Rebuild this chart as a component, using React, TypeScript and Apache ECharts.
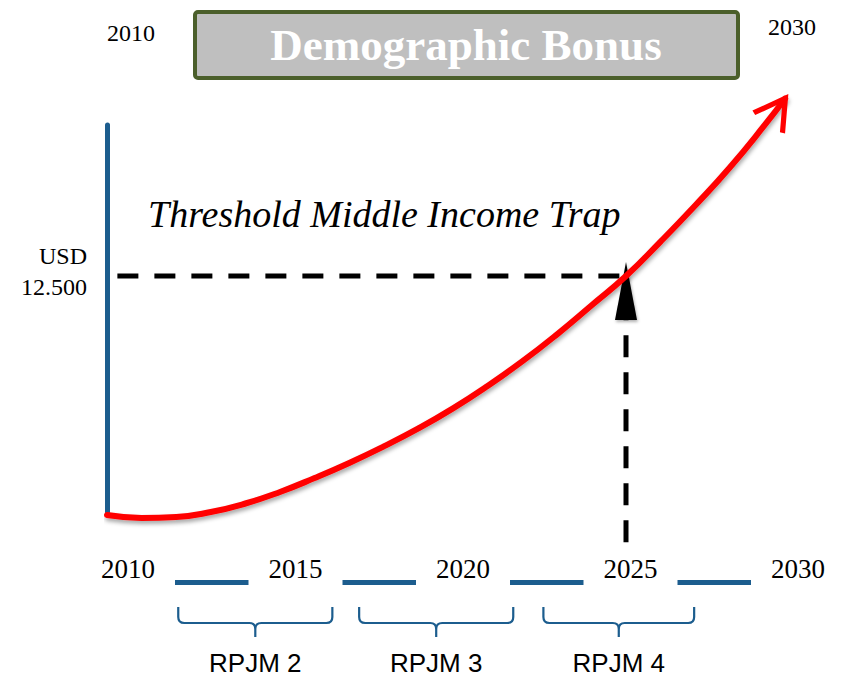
import React, { useEffect, useRef } from "react";
import * as echarts from "echarts";

// ---- data ----
const years = [2010, 2011, 2012, 2013, 2014, 2015, 2016, 2017, 2018, 2019, 2020, 2021, 2022, 2023, 2024, 2025, 2026, 2027, 2028, 2029, 2029.6];
// income per capita, thousand USD (estimated)
const incomeThousandUsd = [2.37, 2.25, 2.29, 2.5, 2.86, 3.35, 3.94, 4.58, 5.28, 6.04, 6.89, 7.84, 8.88, 10.02, 11.25, 12.5, 13.96, 15.49, 17.1, 18.88, 20.02];
const threshold = 12.5;
const thresholdLabel = ["USD", "12.500"];
const thresholdYear = 2025;
const thresholdLineStart = 2010.3;
const dropLineBottom = 1.22;
const axisYears = [2010, 2015, 2020, 2025, 2030];
const bonusYears = ["2010", "2030"];
const bonusTitle = "Demographic Bonus";
const trapTitle = "Threshold Middle Income Trap";
const rpjmNames = ["RPJM 2", "RPJM 3", "RPJM 4"];
const rpjmStart = [2011.5, 2016.9, 2022.4];
const rpjmEnd = [2016.1, 2021.5, 2026.9];

const BLUE = "#1c5d8e";
const RED = "#ff0000";
const SERIF = '"Liberation Serif", "Times New Roman", serif';

export default function App() {
  const ref = useRef<HTMLDivElement>(null);

  useEffect(() => {
    if (!ref.current) return;
    const chart = echarts.init(ref.current, undefined, { renderer: "svg" });

    const curveData = years.map((y, i) => {
      if (i === years.length - 1) {
        return {
          value: [y, incomeThousandUsd[i]],
          symbol: "path://M0,17L10,0L20,17",
          symbolSize: [35, 30],
          symbolRotate: -35,
          symbolOffset: [-8.4, 12],
          itemStyle: { color: "rgba(0,0,0,0)", borderColor: RED, borderWidth: 5 },
        };
      }
      return [y, incomeThousandUsd[i]];
    });

    const option: any = {
      animation: false,
      backgroundColor: "#ffffff",
      grid: [
        { left: 107, right: 49, top: 125, bottom: 165, outerBoundsMode: "none" },
        { left: 128, right: 50, top: 572, bottom: 94.5, outerBoundsMode: "none" },
      ],
      xAxis: [
        { gridIndex: 0, type: "value", min: 2010, max: 2030, show: false },
        {
          gridIndex: 1,
          type: "value",
          min: axisYears[0],
          max: axisYears[axisYears.length - 1],
          interval: 5,
          axisLine: { show: true, onZero: false, lineStyle: { color: BLUE, width: 5 } },
          axisTick: { show: false },
          splitLine: { show: false },
          axisLabel: {
            show: true,
            formatter: (v: number) => String(v),
            margin: -37,
            fontFamily: SERIF,
            fontSize: 27,
            lineHeight: 27,
            color: "#000",
            backgroundColor: "#ffffff",
            padding: [10, 20, 10, 20],
          },
        },
      ],
      yAxis: [
        {
          gridIndex: 0,
          type: "value",
          min: 2.5,
          max: 18.9,
          axisLine: { show: true, onZero: false, lineStyle: { color: BLUE, width: 5 } },
          axisTick: { show: false },
          splitLine: { show: false },
          axisLabel: {
            show: true,
            customValues: [threshold],
            formatter: () => thresholdLabel.map((t) => `{u|${t}}`).join("\n") + "\n{s| }",
            margin: 20,
            color: "#000",
            align: "right",
            verticalAlign: "middle",
            rich: {
              u: { fontFamily: SERIF, fontSize: 24, lineHeight: 31, color: "#000", align: "right" },
              s: { fontSize: 6, lineHeight: 9 },
            },
          },
        },
        { gridIndex: 1, type: "value", min: 0, max: 1, show: false },
      ],
      graphic: [
        {
          type: "rect",
          silent: true,
          shape: { x: 195, y: 12, width: 543, height: 66, r: 3 },
          style: { fill: "#bfbfbf", stroke: "#4b5f2b", lineWidth: 4 },
        },
        {
          type: "text",
          silent: true,
          x: 466,
          y: 45,
          style: {
            text: bonusTitle,
            fontFamily: SERIF,
            fontSize: 45,
            fontWeight: "bold",
            fill: "#ffffff",
            align: "center",
            verticalAlign: "middle",
          },
        },
        {
          type: "text",
          silent: true,
          x: 131,
          y: 33,
          style: { text: bonusYears[0], fontFamily: SERIF, fontSize: 24, fill: "#000", align: "center", verticalAlign: "middle" },
        },
        {
          type: "text",
          silent: true,
          x: 792,
          y: 27,
          style: { text: bonusYears[1], fontFamily: SERIF, fontSize: 24, fill: "#000", align: "center", verticalAlign: "middle" },
        },
        {
          type: "text",
          silent: true,
          x: 148,
          y: 214,
          style: {
            text: trapTitle,
            fontFamily: SERIF,
            fontSize: 38,
            fontStyle: "italic",
            fill: "#000",
            align: "left",
            verticalAlign: "middle",
          },
        },
      ],
      series: [
        {
          name: "threshold",
          type: "line",
          xAxisIndex: 0,
          yAxisIndex: 0,
          silent: true,
          symbol: "none",
          clip: false,
          data: [
            [thresholdLineStart, threshold],
            [thresholdYear, threshold],
          ],
          lineStyle: { color: "#000", width: 5, type: [21, 16] },
          z: 2,
        },
        {
          name: "drop",
          type: "line",
          xAxisIndex: 0,
          yAxisIndex: 0,
          silent: true,
          symbol: "none",
          showSymbol: true,
          clip: false,
          data: [
            [thresholdYear, dropLineBottom],
            {
              value: [thresholdYear, threshold],
              symbol: "triangle",
              symbolSize: [22, 58],
              symbolOffset: [0, 15],
              itemStyle: {
                color: "#000",
                shadowColor: "rgba(0,0,0,0.3)",
                shadowBlur: 3,
                shadowOffsetX: 1,
                shadowOffsetY: 2,
              },
            },
          ],
          lineStyle: { color: "#000", width: 5, type: [22, 15] },
          z: 2,
        },
        {
          name: "income",
          type: "line",
          xAxisIndex: 0,
          yAxisIndex: 0,
          silent: true,
          smooth: 0.5,
          symbol: "none",
          showSymbol: true,
          clip: false,
          data: curveData,
          lineStyle: {
            color: RED,
            width: 6,
            cap: "round",
            shadowColor: "rgba(0,0,0,0.35)",
            shadowBlur: 4,
            shadowOffsetX: 1,
            shadowOffsetY: 3,
          },
          z: 3,
        },
        {
          name: "rpjm",
          type: "custom",
          xAxisIndex: 1,
          yAxisIndex: 1,
          silent: true,
          clip: false,
          data: rpjmNames.map((n, i) => [rpjmStart[i], rpjmEnd[i], i]),
          renderItem: (params: any, api: any) => {
            const s = api.coord([api.value(0), 0]);
            const e = api.coord([api.value(1), 0]);
            const x0 = s[0];
            const x1 = e[0];
            const y = s[1];
            const top = y + 24.5;
            const mid = y + 40.5;
            const tip = y + 54.5;
            const xc = (x0 + x1) / 2;
            const r = 6;
            const d =
              `M${x0},${top} L${x0},${mid - r} Q${x0},${mid} ${x0 + r},${mid} L${xc - r},${mid} Q${xc},${mid} ${xc},${mid + r} L${xc},${tip} ` +
              `M${xc},${mid + r} Q${xc},${mid} ${xc + r},${mid} L${x1 - r},${mid} Q${x1},${mid} ${x1},${mid - r} L${x1},${top}`;
            return {
              type: "group",
              children: [
                {
                  type: "path",
                  shape: { pathData: d },
                  style: { fill: "none", stroke: BLUE, lineWidth: 2.2 },
                },
                {
                  type: "text",
                  x: xc,
                  y: y + 80.5,
                  style: {
                    text: rpjmNames[api.value(2)],
                    fontFamily: '"Liberation Sans", Arial, sans-serif',
                    fontSize: 26,
                    fill: "#000",
                    align: "center",
                    verticalAlign: "middle",
                  },
                },
              ],
            };
          },
        },
      ],
    };

    chart.setOption(option);
    return () => chart.dispose();
  }, []);

  return (
    <div
      ref={ref}
      style={{ position: "absolute", left: 0, top: 0, width: 848, height: 677, background: "#fff" }}
    />
  );
}
